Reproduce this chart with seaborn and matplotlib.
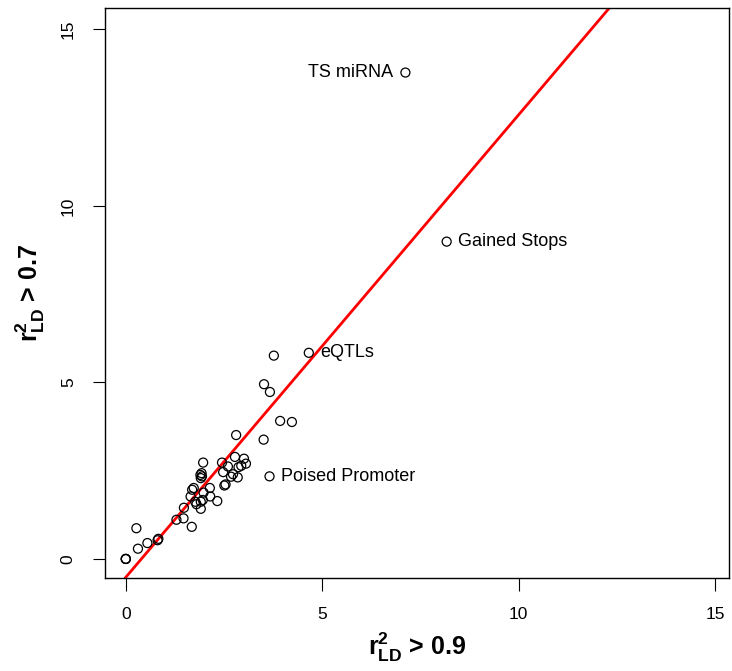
import numpy as np
import pandas as pd
import matplotlib
matplotlib.use("Agg")
import matplotlib.pyplot as plt
import seaborn as sns

# Enrichment per annotation at two LD thresholds
r2_09 = [0.0, 0.0, 0.0, 0.27, 0.31, 0.55, 0.83, 0.81, 1.29, 1.47, 1.48, 1.68,
         1.65, 1.69, 1.73, 1.77, 1.80, 1.91, 1.91, 1.96, 1.98, 1.93, 1.90, 1.94,
         1.91, 1.97, 2.14, 2.15, 2.33, 2.45, 2.60, 2.48, 2.54, 2.51, 2.73, 2.68,
         2.85, 2.78, 2.87, 2.94, 3.01, 3.06, 2.81, 3.51, 3.66, 3.93, 4.23, 3.52,
         3.67, 3.77, 4.66, 8.17, 7.12]
r2_07 = [0.0, 0.0, 0.0, 0.87, 0.29, 0.45, 0.57, 0.53, 1.11, 1.15, 1.45, 0.91,
         1.77, 1.96, 2.01, 1.62, 1.55, 1.42, 1.62, 1.67, 1.88, 2.43, 2.38, 2.34,
         2.29, 2.73, 2.01, 1.77, 1.64, 2.73, 2.62, 2.46, 2.11, 2.08, 2.40, 2.33,
         2.31, 2.89, 2.60, 2.64, 2.84, 2.70, 3.51, 3.38, 2.34, 3.91, 3.88, 4.95,
         4.73, 5.76, 5.84, 8.99, 13.78]

# Labelled annotations
label_names = ["TS miRNA", "Gained Stops", "eQTLs", "Poised Promoter"]
label_x = [7.12, 8.17, 4.66, 3.66]
label_y = [13.78, 8.99, 5.84, 2.34]
label_side = ["left", "right", "right", "right"]

# Fitted line
fit_intercept = -0.52
fit_slope = 1.31

ticks = [0, 5, 10, 15]

sns.set_style("ticks")
plt.rcParams["font.family"] = ["Liberation Sans", "DejaVu Sans"]
plt.rcParams["mathtext.fontset"] = "custom"
plt.rcParams["mathtext.rm"] = "Liberation Sans"
plt.rcParams["mathtext.bf"] = "Liberation Sans:bold"
plt.rcParams["mathtext.it"] = "Liberation Sans:italic"
plt.rcParams["text.color"] = "black"
plt.rcParams["axes.labelcolor"] = "black"

df = pd.DataFrame({"r2_09": r2_09, "r2_07": r2_07})

fig = plt.figure(figsize=(7.32, 6.71), dpi=100)
ax = fig.add_axes([0.1434, 0.1386, 0.852, 0.849])

sns.scatterplot(data=df, x="r2_09", y="r2_07", ax=ax, marker="o", s=42,
                facecolors="none", edgecolor="black", linewidth=0.9,
                legend=False, zorder=3)

ax.axline((0, fit_intercept), slope=fit_slope, color="#ff0000", lw=2.0, zorder=2)

for name, x, y, side in zip(label_names, label_x, label_y, label_side):
    if side == "left":
        ax.annotate(name, (x, y), xytext=(-9, 0), textcoords="offset points",
                    ha="right", va="center", fontsize=13, color="black")
    else:
        ax.annotate(name, (x, y), xytext=(8, 0), textcoords="offset points",
                    ha="left", va="center", fontsize=13, color="black")

ax.set_xlim(-0.53, 15.35)
ax.set_ylim(-0.54, 15.6)
ax.set_xticks(ticks)
ax.set_yticks(ticks)
ax.set_xticklabels([str(t) for t in ticks])
ax.set_yticklabels([str(t) for t in ticks], rotation=90, va="center")

for side in ["top", "right", "bottom", "left"]:
    ax.spines[side].set_visible(True)
    ax.spines[side].set_color("black")
    ax.spines[side].set_linewidth(1.0)

ax.tick_params(axis="both", direction="out", length=9, width=0.8,
               labelsize=12.5, colors="black")
ax.tick_params(axis="x", pad=12)
ax.tick_params(axis="y", pad=12)

ax.set_xlabel(r"$\mathbf{r^{2}_{LD}}$" + " > 0.9", fontsize=18,
              fontweight="bold", labelpad=6)
ax.set_ylabel(r"$\mathbf{r^{2}_{LD}}$" + " > 0.7", fontsize=18,
              fontweight="bold", labelpad=10)

fig.savefig("out.png", dpi=100, facecolor="white")
